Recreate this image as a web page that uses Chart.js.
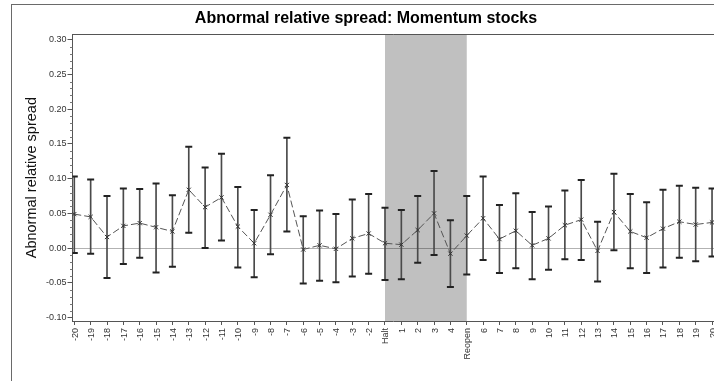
<!DOCTYPE html>
<html>
<head>
<meta charset="utf-8">
<script src="https://cdn.jsdelivr.net/npm/chart.js@4/dist/chart.umd.min.js"></script>
<style>
  html, body { margin: 0; padding: 0; background: #fff; overflow: hidden; }
  #wrap { position: relative; width: 714px; height: 381px; overflow: hidden; }
  #frame { position: absolute; left: 11px; top: 4px; right: -4px; bottom: -4px;
           border-left: 1px solid #6a6a6a; border-top: 1px solid #6a6a6a; }
  canvas { position: absolute; left: 0; top: 0; }
</style>
</head>
<body>
<div id="wrap">
  <div id="frame"></div>
  <canvas id="chart" width="714" height="381"></canvas>
</div>
<script>
// Event days around the trading halt
const categories = ['-20','-19','-18','-17','-16','-15','-14','-13','-12','-11',
  '-10','-9','-8','-7','-6','-5','-4','-3','-2','Halt',
  '1','2','3','4','Reopen','6','7','8','9','10',
  '11','12','13','14','15','16','17','18','19','20'];

// Mean abnormal relative spread per day
const meanSpread = [0.049, 0.045, 0.016, 0.032, 0.036, 0.030, 0.024, 0.084, 0.059, 0.073,
  0.031, 0.007, 0.048, 0.091, -0.002, 0.004, -0.001, 0.014, 0.021, 0.007,
  0.005, 0.026, 0.050, -0.008, 0.018, 0.043, 0.013, 0.025, 0.004, 0.014,
  0.033, 0.041, -0.004, 0.052, 0.024, 0.015, 0.028, 0.038, 0.034, 0.037];

// Confidence interval bounds
const upperCI = [0.103, 0.099, 0.075, 0.086, 0.085, 0.093, 0.076, 0.146, 0.116, 0.136,
  0.088, 0.055, 0.105, 0.159, 0.046, 0.054, 0.049, 0.070, 0.078, 0.058,
  0.055, 0.075, 0.111, 0.040, 0.075, 0.103, 0.062, 0.079, 0.052, 0.060,
  0.083, 0.098, 0.038, 0.107, 0.078, 0.066, 0.084, 0.090, 0.087, 0.086];

const lowerCI = [-0.007, -0.008, -0.043, -0.023, -0.014, -0.035, -0.027, 0.022, 0.000, 0.011,
  -0.028, -0.042, -0.009, 0.024, -0.051, -0.047, -0.049, -0.041, -0.037, -0.046,
  -0.045, -0.021, -0.010, -0.056, -0.038, -0.017, -0.036, -0.029, -0.045, -0.031,
  -0.016, -0.017, -0.048, -0.003, -0.029, -0.036, -0.028, -0.014, -0.019, -0.012];

const yTickValues = [-0.10, -0.05, 0.00, 0.05, 0.10, 0.15, 0.20, 0.25, 0.30];

const titleText = 'Abnormal relative spread: Momentum stocks';
const yTitleText = 'Abnormal relative spread';
const haltIndex = categories.indexOf('Halt');
const reopenIndex = categories.indexOf('Reopen');

const FONT = '"Liberation Sans", Arial, sans-serif';

// Shaded halt period, drawn beneath everything else
const haltBand = {
  id: 'haltBand',
  beforeDraw(chart) {
    const { ctx, chartArea: a, scales: { x } } = chart;
    const x1 = x.getPixelForValue(haltIndex);
    const x2 = x.getPixelForValue(reopenIndex);
    ctx.save();
    ctx.fillStyle = '#c0c0c0';
    ctx.fillRect(x1, a.top, x2 - x1, a.bottom - a.top);
    ctx.restore();
  }
};

// Title, top frame, minor y ticks and vertical day labels
const decorations = {
  id: 'decorations',
  afterDraw(chart) {
    const { ctx, chartArea: a, scales: { x, y } } = chart;
    ctx.save();
    // title
    ctx.fillStyle = '#000';
    ctx.font = 'bold 16px ' + FONT;
    ctx.textAlign = 'center';
    ctx.textBaseline = 'alphabetic';
    ctx.fillText(titleText, 366, 23);

    // top frame line
    ctx.strokeStyle = '#555';
    ctx.lineWidth = 1;
    ctx.beginPath();
    ctx.moveTo(a.left, Math.round(a.top) + 0.5);
    ctx.lineTo(a.right, Math.round(a.top) + 0.5);
    ctx.stroke();

    // minor ticks every 0.01
    ctx.strokeStyle = '#777';
    for (let k = -10; k <= 30; k++) {
      if (k % 5 === 0) continue;
      const py = Math.round(y.getPixelForValue(k / 100)) + 0.5;
      ctx.beginPath();
      ctx.moveTo(a.left - 2.5, py);
      ctx.lineTo(a.left, py);
      ctx.stroke();
    }

    // rotated day labels reading bottom-to-top
    ctx.fillStyle = '#333';
    ctx.font = '9px ' + FONT;
    ctx.textAlign = 'right';
    ctx.textBaseline = 'middle';
    categories.forEach((lab, i) => {
      const px = x.getPixelForValue(i);
      ctx.save();
      ctx.translate(px + 1, a.bottom + 7);
      ctx.rotate(-Math.PI / 2);
      ctx.fillText(lab, 0, 0);
      ctx.restore();
    });
    ctx.restore();
  }
};

const meanPoints = meanSpread.map((v, i) => ({ x: i, y: v }));
const upperPoints = upperCI.map((v, i) => ({ x: i, y: v }));
const lowerPoints = lowerCI.map((v, i) => ({ x: i, y: v }));
const ciRanges = upperCI.map((u, i) => ({ x: i, y: [lowerCI[i], u] }));

new Chart(document.getElementById('chart'), {
  type: 'line',
  data: {
    datasets: [
      {
        type: 'line',
        data: meanPoints,
        borderColor: '#555',
        borderWidth: 1,
        borderDash: [7, 3],
        tension: 0,
        fill: false,
        pointStyle: 'crossRot',
        pointRadius: 3,
        pointBorderColor: '#333',
        pointBorderWidth: 1
      },
      {
        type: 'line',
        data: upperPoints,
        showLine: false,
        pointStyle: 'line',
        pointRadius: 3.5,
        pointBorderColor: '#222',
        pointBorderWidth: 2
      },
      {
        type: 'line',
        data: lowerPoints,
        showLine: false,
        pointStyle: 'line',
        pointRadius: 3.5,
        pointBorderColor: '#222',
        pointBorderWidth: 2
      },
      {
        type: 'bar',
        data: ciRanges,
        backgroundColor: '#4a4a4a',
        borderWidth: 0,
        barThickness: 1
      }
    ]
  },
  options: {
    responsive: false,
    animation: false,
    events: [],
    layout: { autoPadding: false, padding: { top: 34.3, left: 0, right: 0, bottom: 0 } },
    plugins: {
      legend: { display: false },
      tooltip: { enabled: false },
      title: { display: false }
    },
    scales: {
      x: {
        type: 'linear',
        offset: false,
        min: -0.11,
        max: 39.12,
        afterBuildTicks: s => { s.ticks = categories.map((c, i) => ({ value: i })); },
        afterFit: s => { s.height = 60; },
        ticks: { display: false },
        grid: { offset: false, drawOnChartArea: false, drawTicks: true, tickLength: 4, tickColor: '#555' },
        border: { display: true, color: '#555', width: 1 }
      },
      y: {
        type: 'linear',
        min: -0.105,
        max: 0.308,
        afterBuildTicks: s => { s.ticks = yTickValues.map(v => ({ value: v })); },
        afterFit: s => { s.width = 72.5; },
        ticks: {
          font: { family: FONT, size: 9 },
          color: '#333',
          padding: 1,
          callback: v => v.toFixed(2)
        },
        grid: {
          drawOnChartArea: true,
          color: c => (c.tick && c.tick.value === 0) ? 'rgba(0,0,0,0.3)' : 'rgba(0,0,0,0)',
          tickColor: '#555',
          tickLength: 5
        },
        border: { display: true, color: '#555', width: 1 },
        title: {
          display: true,
          text: yTitleText,
          color: '#111',
          font: { family: FONT, size: 14.5 },
          padding: { top: 23, bottom: 0 }
        }
      }
    }
  },
  plugins: [haltBand, decorations]
});
</script>
</body>
</html>
